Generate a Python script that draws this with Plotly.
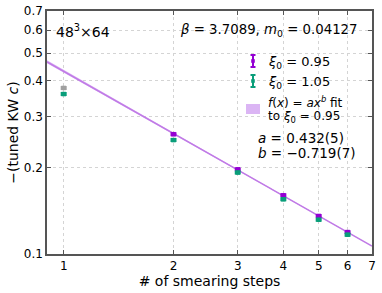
import numpy as np
import plotly.graph_objects as go

steps = [1, 2, 3, 4, 5, 6]
xi095 = [0.378, 0.261, 0.197, 0.160, 0.1356, 0.1192]
xi095_err = [0.003, 0.002, 0.0015, 0.0012, 0.001, 0.0009]
xi105 = [0.360, 0.249, 0.192, 0.155, 0.1316, 0.1167]
xi105_err = [0.003, 0.002, 0.0015, 0.0012, 0.001, 0.0009]
fit_a, fit_a_err = 0.432, 0.005
fit_b, fit_b_err = -0.719, 0.007
xticks = [1, 2, 3, 4, 5, 6, 7]
yticks = [0.1, 0.2, 0.3, 0.4, 0.5, 0.6, 0.7]

PURPLE = "#9400d3"
GREEN = "#0a9e7a"
GRAY = "#a0a0a0"
BAND = "rgba(190,120,235,0.6)"
LINE = "#c07ae6"
FONT = "DejaVu Sans"

L, R, T, B = 47, 10, 11, 39
W, H = 382, 293
pw, ph = W - L - R, H - T - B
def px(x): return (x - L) / pw
def py(y): return (H - B - y) / ph

fig = go.Figure()

xf = np.logspace(np.log10(0.9), np.log10(7.0), 200)
c1 = (fit_a + fit_a_err) * xf ** (fit_b - fit_b_err)
c2 = (fit_a - fit_a_err) * xf ** (fit_b + fit_b_err)
upper = np.maximum(c1, c2)
lower = np.minimum(c1, c2)
fig.add_trace(go.Scatter(x=np.concatenate([xf, xf[::-1]]), y=np.concatenate([upper, lower[::-1]]),
                         fill="toself", fillcolor=BAND, line=dict(width=0), mode="lines",
                         hoverinfo="skip", showlegend=False))
fig.add_trace(go.Scatter(x=xf, y=fit_a * xf ** fit_b, mode="lines",
                         line=dict(color=LINE, width=1.5), showlegend=False))

def pts(xs, ys, es, color):
    fig.add_trace(go.Scatter(x=xs, y=ys, mode="markers",
                             marker=dict(color=color, size=4.5, symbol="square"),
                             error_y=dict(type="data", array=es, color=color, thickness=2, width=3),
                             showlegend=False))

pts(steps[:1], xi095[:1], xi095_err[:1], GRAY)
pts(steps[1:], xi095[1:], xi095_err[1:], PURPLE)
pts(steps, xi105, xi105_err, GREEN)

ax_common = dict(type="log", showline=True, linecolor="#555555", linewidth=1.5, mirror="ticks",
                 ticks="inside", ticklen=4, tickcolor="#555555", automargin=False,
                 showgrid=True, gridcolor="#d4d4d4", griddash="dot", gridwidth=1,
                 tickfont=dict(family=FONT, size=12, color="black"), zeroline=False)

fig.update_layout(
    width=W, height=H, margin=dict(l=L, r=R, t=T, b=B),
    paper_bgcolor="white", plot_bgcolor="white",
    xaxis=dict(range=[np.log10(0.9), np.log10(7.0)], tickvals=xticks,
               ticktext=[str(v) for v in xticks],
               title=dict(text="# of smearing steps", font=dict(family=FONT, size=14, color="black"),
                          standoff=2), **ax_common),
    yaxis=dict(range=[np.log10(0.1), np.log10(0.7)], tickvals=yticks,
               ticktext=[f"{v:.1f}" for v in yticks],
               title=dict(text="−(tuned KW <i>c</i>)", font=dict(family=FONT, size=14, color="black"),
                          standoff=2), **ax_common),
    font=dict(family=FONT, color="black"),
)

def txt(x, y, s, size=13, anchor="left"):
    fig.add_annotation(x=px(x), y=py(y), xref="paper", yref="paper", text=s, showarrow=False,
                       xanchor=anchor, yanchor="middle", xshift=-2,
                       font=dict(family=FONT, size=size, color="black"))

txt(56, 31, "48<sup>3</sup>×64", 14)
txt(180, 31, "<i>β</i> = 3.7089, <i>m</i><sub>0</sub> = 0.04127", 13.3)
txt(268, 62, "<i>ξ</i><sub>0</sub> = 0.95", 13)
txt(268, 82, "<i>ξ</i><sub>0</sub> = 1.05", 13)
txt(268, 102, "<i>f</i>(<i>x</i>) = <i>ax</i><sup><i>b</i></sup> fit", 12)
txt(268, 117, "to <i>ξ</i><sub>0</sub> = 0.95", 12)
txt(258, 138, "<i>a</i> = 0.432(5)", 13.5)
txt(258, 153, "<i>b</i> = −0.719(7)", 13.5)

def icon(cx, cy, color):
    for d in [dict(x0=px(cx), x1=px(cx), y0=py(cy - 6), y1=py(cy + 6)),
              dict(x0=px(cx - 2.5), x1=px(cx + 2.5), y0=py(cy - 6), y1=py(cy - 6)),
              dict(x0=px(cx - 2.5), x1=px(cx + 2.5), y0=py(cy + 6), y1=py(cy + 6))]:
        fig.add_shape(type="line", xref="paper", yref="paper", line=dict(color=color, width=2), **d)
    fig.add_shape(type="rect", xref="paper", yref="paper", x0=px(cx - 1.8), x1=px(cx + 1.8),
                  y0=py(cy - 1.8), y1=py(cy + 1.8), fillcolor=color, line=dict(width=0))

icon(253, 61, PURPLE)
icon(253, 81, GREEN)
fig.add_shape(type="rect", xref="paper", yref="paper", x0=px(246), x1=px(260), y0=py(114), y1=py(104),
              fillcolor="rgba(190,120,235,0.55)", line=dict(width=0))

fig.write_html("out.html", config={"displayModeBar": False},
               post_script="document.body.style.margin='0';document.body.style.overflow='hidden';")
